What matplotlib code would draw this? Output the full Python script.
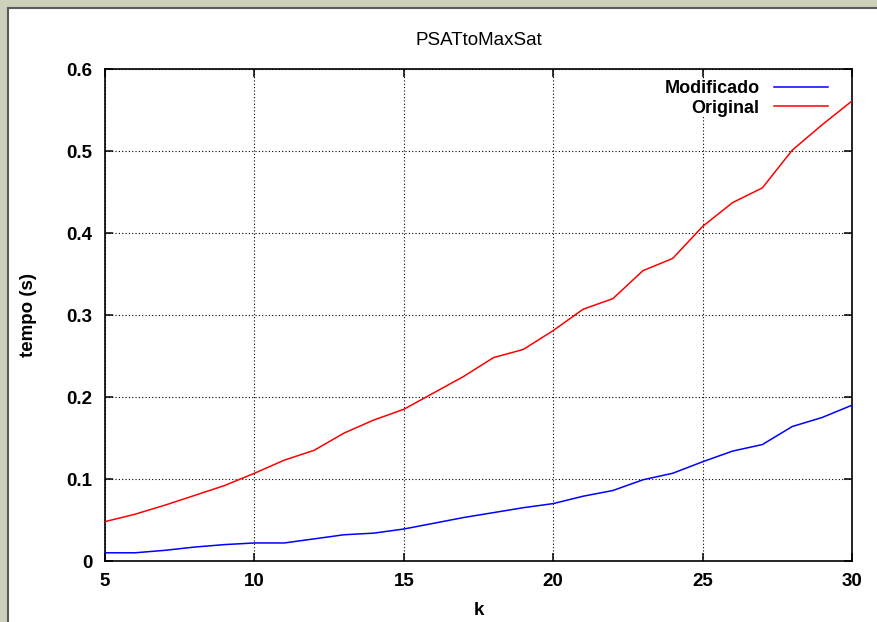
import matplotlib.pyplot as plt
from matplotlib.patches import Rectangle

# tamanho do problema
k = [5, 6, 7, 8, 9, 10, 11, 12, 13, 14, 15, 16, 17, 18, 19, 20,
     21, 22, 23, 24, 25, 26, 27, 28, 29, 30]

# tempos medidos (s)
modificado = [0.010, 0.010, 0.013, 0.017, 0.020, 0.022, 0.022, 0.027, 0.032, 0.034,
              0.039, 0.046, 0.053, 0.059, 0.065, 0.070, 0.079, 0.086, 0.099, 0.107,
              0.121, 0.134, 0.142, 0.164, 0.175, 0.190]
original = [0.048, 0.057, 0.068, 0.080, 0.092, 0.107, 0.123, 0.135, 0.156, 0.172,
            0.185, 0.205, 0.225, 0.248, 0.258, 0.281, 0.307, 0.320, 0.354, 0.369,
            0.408, 0.437, 0.455, 0.501, 0.532, 0.561]

xticks = [5, 10, 15, 20, 25, 30]
yticks = [0, 0.1, 0.2, 0.3, 0.4, 0.5, 0.6]

plt.rcParams['font.family'] = ['Liberation Sans', 'DejaVu Sans']

fig = plt.figure(figsize=(8.77, 6.22), dpi=100)
fig.patch.set_facecolor('#ced1b9')

# moldura da janela
W, H = 877.0, 622.0
fig.add_artist(Rectangle((8 / W, -0.05), 1.1, (H - 8) / H + 0.05,
                         transform=fig.transFigure, facecolor='white',
                         edgecolor='#5a5a5a', linewidth=1.5, zorder=0))

ax = fig.add_axes([105 / W, (H - 561) / H, (852 - 105) / W, (561 - 69) / H])
ax.set_facecolor('white')

ax.plot(k, modificado, color='#0000ff', lw=1.1, label='Modificado', zorder=3)
ax.plot(k, original, color='#ff0000', lw=1.1, label='Original', zorder=3)

ax.set_xlim(5, 30)
ax.set_ylim(0, 0.6)
ax.set_xticks(xticks)
ax.set_yticks(yticks)
ax.set_xticklabels([str(v) for v in xticks], fontweight='bold', fontsize=13.5)
ax.set_yticklabels(['0'] + ['%.1f' % v for v in yticks[1:]], fontweight='bold', fontsize=13.5)
ax.tick_params(direction='in', length=6, width=1.1, top=True, right=True)
ax.tick_params(axis='x', pad=9)
ax.tick_params(axis='y', pad=9)

ax.grid(True, color='black', linestyle=(0, (1, 2)), linewidth=0.8)
for s in ax.spines.values():
    s.set_linewidth(1.2)

ax.set_title('PSATtoMaxSat', fontsize=13.5, pad=17)
ax.set_xlabel('k', fontweight='bold', fontsize=13.5, labelpad=8)
ax.set_ylabel('tempo (s)', fontweight='bold', fontsize=13.5, labelpad=21)

leg = ax.legend(loc='upper right', bbox_to_anchor=(0.968, 0.978),
                markerfirst=False, frameon=True, fancybox=False,
                edgecolor='none', facecolor='white', framealpha=1,
                prop={'weight': 'bold', 'size': 13}, handlelength=3.0,
                handletextpad=0.8, labelspacing=0.15, borderpad=0.0,
                borderaxespad=0.0)
leg.set_zorder(2)

fig.savefig('out.png', dpi=100, facecolor=fig.get_facecolor())
